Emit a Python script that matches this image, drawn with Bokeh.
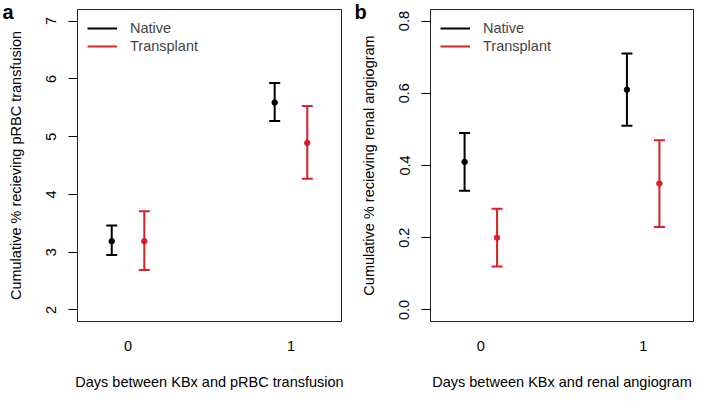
from bokeh.plotting import figure
from bokeh.models import (ColumnDataSource, Range1d, FixedTicker, Legend, LegendItem,
                          Title, NumeralTickFormatter)
from bokeh.layouts import row
from bokeh.transform import dodge
from bokeh.embed import file_html
from bokeh.resources import INLINE

# ---------------- data ----------------
days = [0, 1]
day_labels = {0: "0", 1: "1"}

# panel a: pRBC transfusion (cumulative %)
a_native = [3.19, 5.59]
a_native_lo = [2.95, 5.27]
a_native_hi = [3.46, 5.93]
a_trans = [3.19, 4.89]
a_trans_lo = [2.69, 4.27]
a_trans_hi = [3.71, 5.53]
a_yticks = [2, 3, 4, 5, 6, 7]

# panel b: renal angiogram (cumulative %)
b_native = [0.41, 0.61]
b_native_lo = [0.33, 0.51]
b_native_hi = [0.49, 0.71]
b_trans = [0.20, 0.35]
b_trans_lo = [0.12, 0.23]
b_trans_hi = [0.28, 0.47]
b_yticks = [0.0, 0.2, 0.4, 0.6, 0.8]

series_names = ["Native", "Transplant"]
colors = ["#000000", "#d7202a"]
FONT = "Liberation Sans"
FS = "14.5px"
H = 393
TOP = 9
BOTTOM = 72


def make_panel(letter, native, nlo, nhi, trans, tlo, thi, yticks, yrange,
               xtitle, ytitle, width, bl, br, letter_x, yfmt=None):
    p = figure(width=width, height=H, output_backend="svg", toolbar_location=None,
               x_range=Range1d(-0.31, 1.31), y_range=Range1d(*yrange),
               min_border_left=bl, min_border_right=br, min_border_top=TOP,
               min_border_bottom=BOTTOM)
    p.background_fill_color = "white"
    p.border_fill_color = "white"
    p.outline_line_color = "#222222"
    p.outline_line_width = 1
    p.xgrid.visible = False
    p.ygrid.visible = False

    # panel letter as a (left-shifted) title
    p.add_layout(Title(text=letter, align="left", offset=-(bl - letter_x), standoff=-26,
                       text_font=FONT, text_font_size="20px", text_font_style="bold",
                       text_color="black", vertical_align="bottom"), "above")

    # axes
    p.xaxis.ticker = FixedTicker(ticks=days)
    p.xaxis.major_label_overrides = day_labels
    p.xaxis.axis_line_color = None
    p.xaxis.major_tick_line_color = None
    p.xaxis.minor_tick_line_color = None
    p.xaxis.major_tick_out = 0
    p.xaxis.major_tick_in = 0
    p.xaxis.major_label_standoff = 19
    p.xaxis.axis_label = xtitle
    p.xaxis.axis_label_standoff = 20

    p.yaxis.ticker = FixedTicker(ticks=yticks)
    if yfmt:
        p.yaxis.formatter = NumeralTickFormatter(format=yfmt)
    p.yaxis.axis_line_color = None
    p.yaxis.minor_tick_line_color = None
    p.yaxis.major_tick_out = 9
    p.yaxis.major_tick_in = 0
    p.yaxis.major_tick_line_color = "black"
    p.yaxis.major_label_orientation = "vertical"
    p.yaxis.major_label_standoff = 12
    p.yaxis.axis_label = ytitle
    p.yaxis.axis_label_standoff = 20

    for ax in (p.xaxis, p.yaxis):
        ax.major_label_text_font = FONT
        ax.major_label_text_font_size = FS
        ax.major_label_text_color = "black"
        ax.axis_label_text_font = FONT
        ax.axis_label_text_font_size = FS
        ax.axis_label_text_font_style = "normal"
        ax.axis_label_text_color = "black"

    renderers = []
    for i, (v, lo, hi) in enumerate([(native, nlo, nhi), (trans, tlo, thi)]):
        src = ColumnDataSource(dict(day=days, v=v, lo=lo, hi=hi))
        off = -0.1 if i == 0 else 0.1
        xd = dodge("day", off, range=p.x_range)
        seg = p.segment(x0=xd, y0="lo", x1=xd, y1="hi", source=src,
                        line_color=colors[i], line_width=2)
        p.scatter(x=xd, y="lo", source=src, marker="dash", size=11,
                  line_color=colors[i], line_width=2)
        p.scatter(x=xd, y="hi", source=src, marker="dash", size=11,
                  line_color=colors[i], line_width=2)
        p.scatter(x=xd, y="v", source=src, marker="circle", size=5.5,
                  fill_color=colors[i], line_color=colors[i])
        renderers.append(seg)

    legend = Legend(items=[LegendItem(label=series_names[i], renderers=[renderers[i]])
                           for i in range(2)],
                    location="top_left", margin=10, padding=0,
                    border_line_color=None, background_fill_alpha=0,
                    glyph_width=30, glyph_height=18, label_height=18, spacing=0,
                    label_standoff=13, label_text_font=FONT,
                    label_text_font_size=FS)
    p.add_layout(legend)
    return p


pa = make_panel("a", a_native, a_native_lo, a_native_hi, a_trans, a_trans_lo, a_trans_hi,
                a_yticks, (1.8, 7.2), "Days between KBx and pRBC transfusion",
                "Cumulative % recieving pRBC transfusion", 350, 77, 9, 2)
pb = make_panel("b", b_native, b_native_lo, b_native_hi, b_trans, b_trans_lo, b_trans_hi,
                b_yticks, (-0.032, 0.832), "Days between KBx and renal angiogram",
                "Cumulative % recieving renal angiogram", 345, 80, 2, 4, yfmt="0.0")

layout = row(pa, pb)
open("out.html", "w").write(file_html(layout, INLINE))
